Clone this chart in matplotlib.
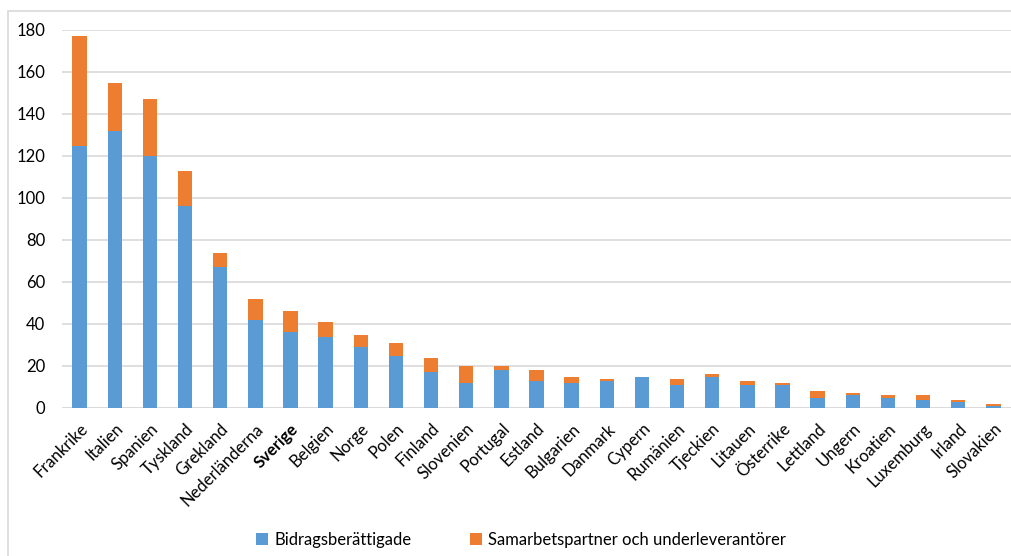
import matplotlib
matplotlib.use('Agg')
import matplotlib.pyplot as plt
from matplotlib.patches import Rectangle
import numpy as np

countries = ['Frankrike', 'Italien', 'Spanien', 'Tyskland', 'Grekland', 'Nederländerna',
             'Sverige', 'Belgien', 'Norge', 'Polen', 'Finland', 'Slovenien', 'Portugal',
             'Estland', 'Bulgarien', 'Danmark', 'Cypern', 'Rumänien', 'Tjeckien', 'Litauen',
             'Österrike', 'Lettland', 'Ungern', 'Kroatien', 'Luxemburg', 'Irland', 'Slovakien']
bidrag = [125, 132, 120, 96, 67, 42, 36, 34, 29, 25, 17, 12, 18, 13, 12, 13, 15, 11, 15, 11,
          11, 5, 6, 5, 4, 3, 1]
samarbete = [52, 23, 27, 17, 7, 10, 10, 7, 6, 6, 7, 8, 2, 5, 3, 1, 0, 3, 1, 2,
             1, 3, 1, 1, 2, 1, 1]

blue = '#5B9BD5'
orange = '#ED7D31'
grid = '#D9D9D9'

plt.rcParams['font.family'] = ['Lato', 'DejaVu Sans']

fig = plt.figure(figsize=(10.12, 5.56), dpi=100)
W, H = 1012, 556
# plot area in pixels
left, right, top, bottom = 62, 1011, 30, 408
ax = fig.add_axes([left / W, 1 - bottom / H, (right - left) / W, (bottom - top) / H])

# light frame of the chart area (only top/left visible)
fig.patches.append(Rectangle((8 / W, -0.1), 1.2, 1 - 11 / H + 0.1, transform=fig.transFigure,
                             fill=False, edgecolor=grid, linewidth=1.2))

x = np.arange(len(countries))
ax.bar(x, bidrag, width=0.41, color=blue, label='Bidragsberättigade', zorder=3)
ax.bar(x, samarbete, width=0.41, bottom=bidrag, color=orange,
       label='Samarbetspartner och underleverantörer', zorder=3)

ax.set_xlim(-0.5, len(countries) - 0.5)
ax.set_ylim(0, 180)
ax.set_yticks(range(0, 181, 20))
ax.yaxis.grid(True, color=grid, linewidth=1.2, zorder=0)
for s in ax.spines.values():
    s.set_visible(False)
ax.axhline(0, color=grid, linewidth=1.2, zorder=2)
ax.tick_params(axis='both', length=0, labelsize=12, colors='#000000')
ax.tick_params(axis='y', pad=12)
ax.tick_params(axis='x', pad=9)
ax.set_xticks(x)
ax.set_xticklabels(countries, rotation=45, ha='right', rotation_mode='anchor')
for lbl in ax.get_xticklabels():
    if lbl.get_text() == 'Sverige':
        lbl.set_fontweight('bold')

fig.legend(loc='center', bbox_to_anchor=(0.515, 1 - 540 / H), ncol=2, frameon=False,
           fontsize=12, handlelength=0.7, handleheight=0.7, columnspacing=3.5,
           handletextpad=0.4)

fig.savefig('out.png', dpi=100)
